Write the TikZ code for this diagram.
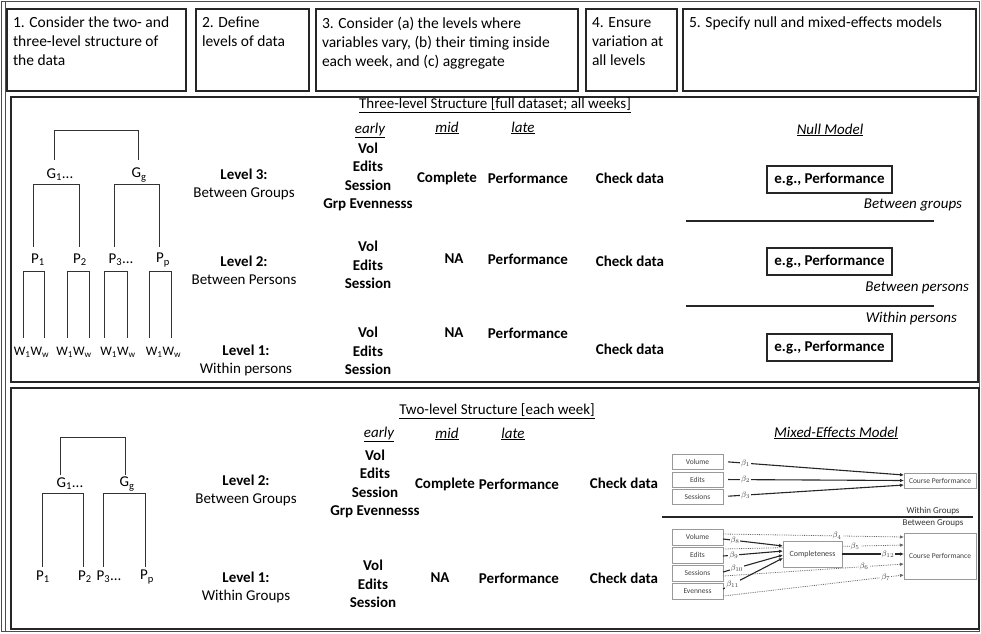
\documentclass[tikz,border=0pt]{standalone}
\usepackage{fontspec}
\setmainfont{Carlito}
\usetikzlibrary{arrows.meta}
\begin{document}
\begin{tikzpicture}[x=1pt,y=-1pt,
  every node/.style={inner sep=0pt, outer sep=0pt},
  hbox/.style={draw=black!85, line width=2.8pt, anchor=north west, minimum height=82pt},
  htext/.style={anchor=north west, align=left, font=\fontsize{15.5}{19}\selectfont},
  panel/.style={draw=black!85, line width=1.6pt},
  lbl/.style={font=\fontsize{15}{18}\selectfont, align=center},
  wl/.style={font=\fontsize{13}{16}\selectfont},
  bl/.style={font=\fontsize{15}{18.5}\selectfont\bfseries, align=center},
  ttl/.style={font=\fontsize{15}{18}\selectfont},
  itl/.style={font=\fontsize{15}{18}\selectfont\itshape},
  tree/.style={draw=black!80, line width=1pt},
  sep/.style={draw=black!85, line width=1.3pt},
  nbox/.style={draw=black!85, line width=1.8pt, minimum width=125pt, minimum height=27pt, font=\fontsize{15}{18}\selectfont\bfseries},
  mbox/.style={draw=black!40, line width=0.6pt, fill=white, font=\fontsize{7.5}{9}\selectfont, text=black!75},
  beta/.style={fill=white, inner sep=1pt, font=\fontsize{8}{9}\selectfont, text=black!75},
  small/.style={font=\fontsize{9}{10}\selectfont, text=black!80},
  sarr/.style={draw=black!85, line width=1.1pt, -{Latex[length=4pt,width=3.5pt]}},
  darr/.style={draw=black!60, line width=0.8pt, densely dotted, -{Latex[length=4pt,width=3.5pt]}},
]
\useasboundingbox (0,0) rectangle (981,633);
% outer frame
\draw[black!70, line width=0.8pt] (1.5,1.5) rectangle (979.5,631.5);
\draw[black!70, line width=0.8pt] (5,1.5) -- (5,631.5);

% header boxes
\node[hbox, minimum width=179pt] (h1) at (7,9) {};
\node[hbox, minimum width=113pt] (h2) at (196,9) {};
\node[hbox, minimum width=262pt] (h3) at (316,9) {};
\node[hbox, minimum width=91pt] (h4) at (586,9) {};
\node[hbox, minimum width=293pt] (h5) at (683,9) {};
\node[htext] (t1) at ([xshift=6pt,yshift=-8pt]h1.north west) {1. Consider the two- and\\three-level structure of\\the data};
\node[htext] (t2) at ([xshift=6pt,yshift=-8pt]h2.north west) {2. Define\\levels of data};
\node[htext] (t3) at ([xshift=6pt,yshift=-8pt]h3.north west) {3. Consider (a) the levels where\\variables vary, (b) their timing inside\\each week, and (c) aggregate};
\node[htext] (t4) at ([xshift=6pt,yshift=-9pt]h4.north west) {4. Ensure\\variation at\\all levels};
\node[htext] (t5) at ([xshift=6pt,yshift=-8pt]h5.north west) {5. Specify null and mixed-effects models};

% panels
\draw[panel] (11,97) rectangle (978,382);
\draw[panel] (11,388) rectangle (979,629);

%%%%% TOP PANEL %%%%%
% tree
\node[lbl] (G1) at (60,175) {G\textsubscript{1}...};
\node[lbl] (Gg) at (139,175) {G\textsubscript{g}};
\coordinate (ta) at (54,160); \coordinate (tb) at (138,160);
\draw[tree] (ta) -- ++(0,-30) -| (tb);
\coordinate (ga1) at (33,247); \coordinate (ga2) at (79,247);
\coordinate (gb1) at (114,247); \coordinate (gb2) at (159,247);
\draw[tree] (ga1) -- ++(0,-63) -| (ga2);
\draw[tree] (gb1) -- ++(0,-63) -| (gb2);
\node[lbl] (P1) at (38,260) {P\textsubscript{1}};
\node[lbl] (P2) at (80,260) {P\textsubscript{2}};
\node[lbl] (P3) at (121,260) {P\textsubscript{3}...};
\node[lbl] (Pp) at (163,260) {P\textsubscript{p}};
\foreach \l/\r/\c [count=\i] in {23/44/31.5,67/89/74,104/127/118,149/171/163.5}{
  \coordinate (wl\i) at (\l,338); \coordinate (wr\i) at (\r,338);
  \draw[tree] (wl\i) -- ++(0,-67) -| (wr\i);
  \node[wl] (W\i) at (\c,352) {W\textsubscript{1}W\textsubscript{w}};
}
% level labels
\node[lbl] (lv3) at (244,184) {\textbf{Level 3:}\\Between Groups};
\node[lbl] (lv2) at (244,270) {\textbf{Level 2:}\\Between Persons};
\node[lbl] (lv1) at (246,360) {\textbf{Level 1:}\\Within persons};
% titles
\node[ttl] (T3) at (495,105) {\underline{Three-level Structure [full dataset; all weeks]}};
\node[itl] (e3) at (370,130) {\underline{early}};
\node[itl] (m3) at (447,128) {\underline{mid}};
\node[itl] (l3) at (523,128) {\underline{late}};
% rows
\node[bl] (r3a) at (368,177) {Vol\\Edits\\Session\\Grp Evennesss};
\node[bl] (r3b) at (447,178) {Complete};
\node[bl] (r3c) at (528,178) {Performance};
\node[bl] (r3d) at (630,178) {Check data};
\node[bl] (r2a) at (368,265) {Vol\\Edits\\Session};
\node[bl] (r2b) at (454,259) {NA};
\node[bl] (r2c) at (528,259) {Performance};
\node[bl] (r2d) at (630,261) {Check data};
\node[bl] (r1a) at (368,351) {Vol\\Edits\\Session};
\node[bl] (r1b) at (454,333) {NA};
\node[bl] (r1c) at (528,333) {Performance};
\node[bl] (r1d) at (630,349) {Check data};
% null model
\node[itl] (NM) at (830,130) {\underline{Null Model}};
\node[nbox] (n1) at (829.5,179.5) {e.g., Performance};
\node[nbox] (n2) at (829.5,261.5) {e.g., Performance};
\node[nbox] (n3) at (829.5,347.5) {e.g., Performance};
\node[itl, anchor=east] (bg) at (962,205) {Between groups};
\node[itl, anchor=east] (bp) at (969,288) {Between persons};
\node[itl, anchor=east] (wp) at (957,318) {Within persons};
\draw[sep] (686,221) -- (934,221);
\draw[sep] (686,306) -- (934,306);

%%%%% BOTTOM PANEL %%%%%
\node[lbl] (BG1) at (70,484) {G\textsubscript{1}...};
\node[lbl] (BGg) at (127,484) {G\textsubscript{g}};
\coordinate (bta) at (60,475); \coordinate (btb) at (125,475);
\draw[tree] (bta) -- ++(0,-38) -| (btb);
\coordinate (bga1) at (42,567); \coordinate (bga2) at (83,567);
\coordinate (bgb1) at (103,567); \coordinate (bgb2) at (145,567);
\draw[tree] (bga1) -- ++(0,-74) -| (bga2);
\draw[tree] (bgb1) -- ++(0,-74) -| (bgb2);
\node[lbl] (BP1) at (43,577) {P\textsubscript{1}};
\node[lbl] (BP2) at (85,577) {P\textsubscript{2}};
\node[lbl] (BP3) at (109,577) {P\textsubscript{3}...};
\node[lbl] (BPp) at (147,577) {P\textsubscript{p}};
\node[lbl] (blv2) at (246,490) {\textbf{Level 2:}\\Between Groups};
\node[lbl] (blv1) at (246,587) {\textbf{Level 1:}\\Within Groups};
\node[ttl] (T2) at (497,411) {\underline{Two-level Structure [each week]}};
\node[itl] (e2t) at (379,434) {\underline{early}};
\node[itl] (m2t) at (447,434) {\underline{mid}};
\node[itl] (l2t) at (513,434) {\underline{late}};
\node[bl] (q2a) at (375,484) {Vol\\Edits\\Session\\Grp Evennesss};
\node[bl] (q2b) at (445,484) {Complete};
\node[bl] (q2c) at (519,484) {Performance};
\node[bl] (q2d) at (624,483) {Check data};
\node[bl] (q1a) at (373,584) {Vol\\Edits\\Session};
\node[bl] (q1b) at (440,578) {NA};
\node[bl] (q1c) at (519,578) {Performance};
\node[bl] (q1d) at (624,578) {Check data};

% mixed-effects model
\node[itl] (MM) at (836,433) {\underline{Mixed-Effects Model}};
\node[mbox, minimum width=51pt, minimum height=15pt] (v1) at (697.5,461.5) {Volume};
\node[mbox, minimum width=51pt, minimum height=15pt] (e1) at (697.5,479.5) {Edits};
\node[mbox, minimum width=51pt, minimum height=15pt] (s1) at (697.5,496.5) {Sessions};
\node[mbox, minimum width=72pt, minimum height=15pt] (cp1) at (940,480.5) {Course Performance};
\draw[sarr, shorten <=5pt] (v1.east) -- node[beta, pos=0.125] {$\beta_1$} ([yshift=5.5pt]cp1.west);
\draw[sarr, shorten <=5pt] (e1.east) -- node[beta, pos=0.125] {$\beta_2$} ([yshift=0pt]cp1.west);
\draw[sarr, shorten <=5pt] (s1.east) -- node[beta, pos=0.125] {$\beta_3$} ([yshift=-4.5pt]cp1.west);
\node[small] (wg) at (933,511) {Within Groups};
\node[small] (bgg) at (933,523) {Between Groups};
\draw[sep] (662,517) -- (973,517);

\node[mbox, minimum width=51pt, minimum height=16pt] (v2) at (697.5,537) {Volume};
\node[mbox, minimum width=51pt, minimum height=16pt] (e2) at (697.5,555) {Edits};
\node[mbox, minimum width=51pt, minimum height=16pt] (s2) at (697.5,573) {Sessions};
\node[mbox, minimum width=51pt, minimum height=16pt] (ev) at (697.5,591.5) {Evenness};
\node[mbox, minimum width=72pt, minimum height=46pt] (cp2) at (940,556) {Course Performance};
\draw[darr] ([yshift=3pt]v2.east) -- node[beta, pos=0.63] {$\beta_4$} ([yshift=19pt]cp2.west);
\draw[darr] ([yshift=6pt]e2.east) -- node[beta, pos=0.73] {$\beta_5$} ([yshift=11pt]cp2.west);
\draw[darr] ([yshift=-3pt]s2.east) -- node[beta, pos=0.78] {$\beta_6$} ([yshift=-8pt]cp2.west);
\draw[darr] ([yshift=-4.5pt]ev.east) -- node[beta, pos=0.9] {$\beta_7$} ([yshift=-19pt]cp2.west);
\node[mbox, minimum width=59pt, minimum height=26pt, font=\fontsize{8}{9}\selectfont] (cm) at (812.5,554) {Completeness};
\draw[sarr] ([yshift=-2pt]v2.east) -- node[beta, pos=0.2] {$\beta_8$} ([yshift=8pt]cm.west);
\draw[sarr] ([yshift=-1pt]e2.east) -- node[beta, pos=0.18] {$\beta_9$} ([yshift=3pt]cm.west);
\draw[sarr] ([yshift=1pt]s2.east) -- node[beta, pos=0.23] {$\beta_{10}$} ([yshift=-1pt]cm.west);
\draw[sarr] ([yshift=2.5pt]ev.east) -- node[beta, pos=0.16] {$\beta_{11}$} ([yshift=-4pt]cm.west);
\draw[sarr] (cm.east) -- node[beta, pos=0.74] {$\beta_{12}$} ([yshift=2pt]cp2.west);
\end{tikzpicture}
\end{document}
